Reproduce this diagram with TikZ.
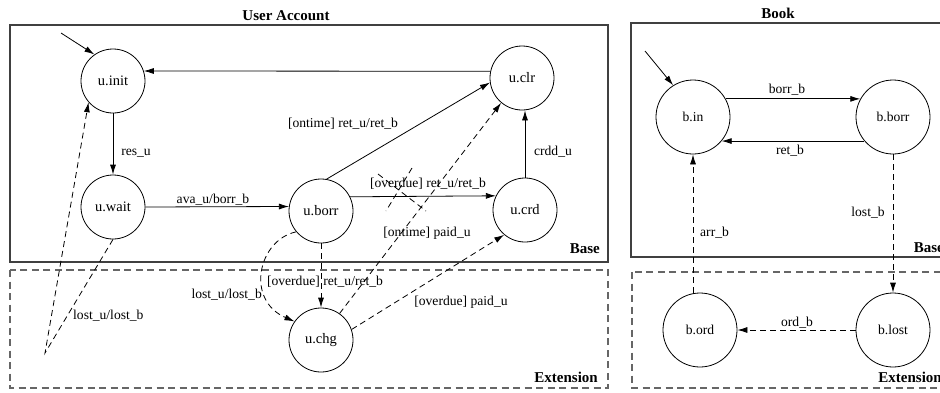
\documentclass[tikz,border=0pt]{standalone}
\usepackage{fontspec}
\setmainfont{Liberation Serif}
\usetikzlibrary{arrows.meta}
\begin{document}
\begin{tikzpicture}[x=1pt,y=-1pt,
  st/.style={draw,circle,minimum size=64pt,inner sep=0pt,line width=0.8pt,font=\fontsize{14.5}{16}\selectfont},
  bst/.style={st,minimum size=74pt,font=\fontsize{13.6}{16}\selectfont},
  tr/.style={line width=0.8pt,-{Latex[length=10pt,width=6pt]}},
  dtr/.style={tr,dash pattern=on 6pt off 4pt},
  xmark/.style={line width=0.8pt,dash pattern=on 6pt off 4pt},
  lbl/.style={font=\fontsize{13.6}{16}\selectfont,inner sep=0pt},
  ttl/.style={font=\fontsize{15}{18}\selectfont\bfseries,inner sep=0pt},
  basebox/.style={draw=black!75,line width=1.1pt},
  extbox/.style={draw=black!60,line width=1.1pt,dash pattern=on 7pt off 4.5pt},
]
\useasboundingbox (0,0) rectangle (940,392);
% boxes
\draw[basebox] (10,25) rectangle (608,262);
\draw[extbox] (10,270) rectangle (608,388);
\draw[basebox] (631,23) rectangle (952,257);
\draw[extbox] (632,272) rectangle (952,388);
% titles
\node[ttl] (tA) at (286,16) {User Account};
\node[ttl] (tB) at (778,13) {Book};
\node[ttl,anchor=east] (bA) at (600,249) {Base};
\node[ttl,anchor=east] (eA) at (598,377) {Extension};
\node[ttl,anchor=east] (bB) at (944,248) {Base};
\node[ttl,anchor=east] (eB) at (942,377) {Extension};
% user states
\node[st] (init) at (113,81) {u.init};
\node[st] (wait) at (113,207) {u.wait};
\node[st] (borr) at (321,211) {u.borr};
\node[st] (clr) at (522,78) {u.clr};
\node[st] (crd) at (525,210) {u.crd};
\node[st] (chg) at (321,340) {u.chg};
% book states
\node[bst] (bin) at (693,117) {b.in};
\node[bst] (bborr) at (893,117) {b.borr};
\node[bst] (bord) at (700,330) {b.ord};
\node[bst] (blost) at (893,330) {b.lost};
% initial arrows
\coordinate (i0) at (61,33);
\coordinate (i1) at (645,51);
\draw[tr] (i0) -- (init.125);
\draw[tr] (i1) -- (bin.122);
% user transitions
\draw[tr] (clr.168) -- (init.18);
\draw[tr] (init) -- (wait);
\draw[tr] (wait.0) -- (borr.172);
\draw[tr] (borr.80) -- (clr.188);
\draw[tr] (borr.26) -- (crd.154);
\draw[tr] (crd.north) -- (crd.north |- clr.south);
\draw[dtr] (borr.south) -- (chg.north);
\draw[dtr] (chg.55) -- (clr.230);
\draw[dtr] (chg.19) -- (crd.230);
\draw[dtr] (borr.220) .. controls (258,240) and (245,300) .. (chg.145);
\coordinate (lw) at (45,353);
\draw[dtr] (wait.south) -- (lw) -- (init.221);
% cross mark
\coordinate (xa1) at (378,174);
\coordinate (xa2) at (426,211);
\coordinate (xb1) at (412,168);
\coordinate (xb2) at (386,211);
\draw[xmark] (xa1) -- (xa2) (xb1) -- (xb2);
% user labels
\node[lbl] (l1) at (136,153) {res\_u};
\node[lbl] (l2) at (213,200) {ava\_u/borr\_b};
\node[lbl] (l3) at (343,124) {[ontime] ret\_u/ret\_b};
\node[lbl] (l4) at (428,184) {[overdue] ret\_u/ret\_b};
\node[lbl] (l5) at (553,152) {crdd\_u};
\node[lbl] (l6) at (427,233) {[ontime] paid\_u};
\node[lbl] (l7) at (325,282) {[overdue] ret\_u/ret\_b};
\node[lbl,anchor=east] (l8) at (262,295) {lost\_u/lost\_b};
\node[lbl] (l9) at (461,302) {[overdue] paid\_u};
\node[lbl,anchor=west] (l10) at (73,316) {lost\_u/lost\_b};
% book transitions
\draw[tr] (bin.29) -- (bborr.151);
\draw[tr] (bborr.220) -- (bin.-40);
\draw[dtr] (bborr) -- (blost);
\draw[dtr] (bin.south |- bord.north) -- (bin.south);
\draw[dtr] (blost) -- (bord);
% book labels
\node[lbl] (m1) at (787,90) {borr\_b};
\node[lbl] (m2) at (790,151) {ret\_b};
\node[lbl] (m3) at (868,213) {lost\_b};
\node[lbl,anchor=west] (m4) at (700,233) {arr\_b};
\node[lbl] (m5) at (797,323) {ord\_b};
\end{tikzpicture}
\end{document}
